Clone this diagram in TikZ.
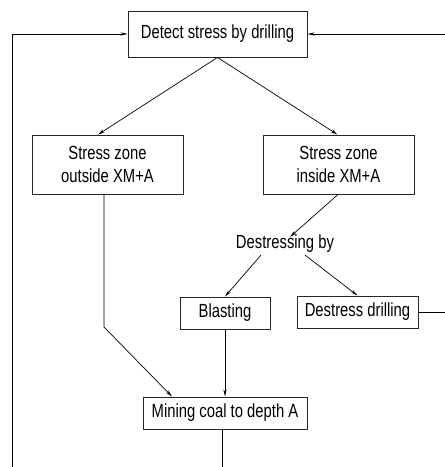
\documentclass[tikz,border=0pt]{standalone}
\usepackage{fontspec}
\setmainfont{Liberation Sans}[FakeStretch=0.78]
\usetikzlibrary{arrows.meta,calc}
\begin{document}
\begin{tikzpicture}[x=1pt,y=-1pt,
  box/.style={draw=black!85,line width=0.9pt,rectangle,inner sep=0pt,align=center,
    font=\fontsize{19}{23.3}\selectfont},
  lbl/.style={inner sep=1pt,font=\fontsize{19}{23.3}\selectfont},
  conn/.style={line width=0.7pt,-{Stealth[length=7pt,width=3.2pt]}},
  plain/.style={line width=0.7pt}]
\useasboundingbox (0,0) rectangle (445,467);
\node[box,minimum width=179pt,minimum height=46pt] (top) at (217.5,34) {Detect stress by drilling};
\node[box,minimum width=151pt,minimum height=59pt] (out) at (107.5,164.5) {Stress zone\\outside XM+A};
\node[box,minimum width=151pt,minimum height=59pt] (in) at (338.5,164.5) {Stress zone\\inside XM+A};
\node[lbl] (destr) at (285,244) {Destressing by};
\node[box,minimum width=90pt,minimum height=32pt] (blast) at (225,313) {Blasting};
\node[box,minimum width=121pt,minimum height=32pt] (dd) at (357.5,312) {Destress drilling};
\node[box,minimum width=164pt,minimum height=32pt] (mine) at (225,413) {Mining coal to depth A};
\coordinate (bl) at (12,467);
\coordinate (tr) at (445,34);
\coordinate (ddr) at (445,312);
\coordinate (mb) at (222,467);
\coordinate (bend) at (104,327);
\draw[conn] (bl) |- (top.west);
\draw[conn] (tr) -- (top.east);
\draw[conn] (top.south) -- ([xshift=-9.5pt]out.north);
\draw[conn] (top.south) -- ([xshift=-1pt]in.north);
\draw[conn] ([xshift=-0.5pt]in.south) -- ([xshift=5pt,yshift=-3pt]destr.north);
\draw[conn] ([xshift=-24pt,yshift=-1pt]destr.south) -- (blast.north);
\draw[conn] ([xshift=20pt,yshift=-1pt]destr.south) -- (dd.north);
\draw[conn] ([xshift=-3.5pt]out.south) -- (bend) -- ([xshift=-53pt]mine.north);
\draw[conn] (blast.south) -- (mine.north);
\draw[plain] (dd.east) -- (ddr);
\draw[plain] ([xshift=-3pt]mine.south) -- (mb);
\end{tikzpicture}
\end{document}
